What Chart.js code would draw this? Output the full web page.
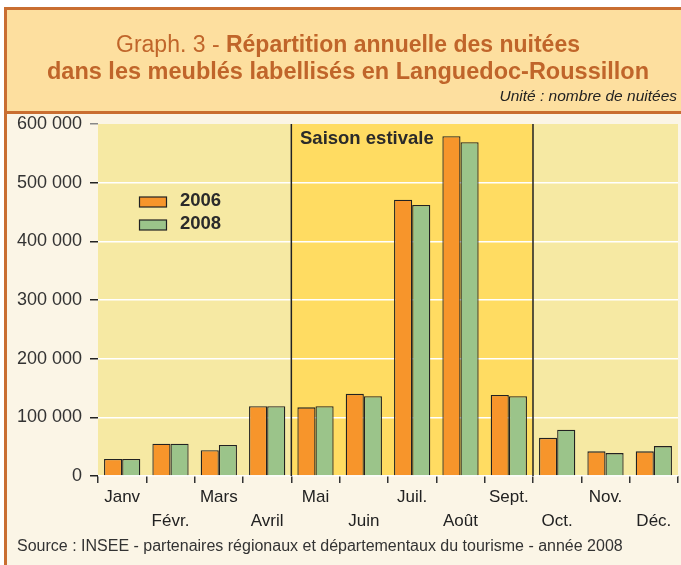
<!DOCTYPE html>
<html>
<head>
<meta charset="utf-8">
<script src="https://cdn.jsdelivr.net/npm/chart.js@4"></script>
<style>
  html, body { margin: 0; padding: 0; background: #fff; }
  #wrap { width: 681px; height: 565px; position: relative; }
</style>
</head>
<body>
<div id="wrap"><canvas id="nuitees"></canvas></div>
<script>
const mois = ["Janv", "Févr.", "Mars", "Avril", "Mai", "Juin", "Juil.", "Août", "Sept.", "Oct.", "Nov.", "Déc."];
const nuitees2006 = [29000, 55000, 44000, 119000, 117000, 140000, 471000, 579000, 138000, 65000, 42000, 42000];
const nuitees2008 = [29000, 55000, 53000, 119000, 119000, 136000, 462000, 569000, 136000, 79000, 39000, 51000];
const yTicks = [0, 100000, 200000, 300000, 400000, 500000, 600000];
const saison = [4, 8]; // Mai .. Sept.

const FONT = "'Liberation Sans', Arial, sans-serif";

// fonds, cadre du titre, bande "saison estivale"
const decor = {
  id: "decor",
  beforeDraw(chart) {
    const c = chart.ctx, a = chart.chartArea, x = chart.scales.x;
    c.save();
    c.fillStyle = "#fff";
    c.fillRect(0, 0, chart.width, chart.height);
    c.fillStyle = "#FBF5E6";
    c.fillRect(5, 112, chart.width, chart.height);
    // cadre titre
    c.fillStyle = "#FDDF9F";
    c.fillRect(5, 8, chart.width, 104);
    c.strokeStyle = "#C96E31";
    c.lineWidth = 3;
    c.strokeRect(5.5, 8.5, chart.width + 5, 104);
    c.beginPath();
    c.moveTo(5.5, 112); c.lineTo(5.5, chart.height);
    c.stroke();
    // zone du graphique
    c.fillStyle = "#F6E9A3";
    c.fillRect(a.left, a.top, a.right - a.left, a.bottom - a.top);
    const w = (x.getPixelForValue(1) - x.getPixelForValue(0));
    const x0 = x.getPixelForValue(saison[0]) - w / 2;
    const x1 = x.getPixelForValue(saison[1]) + w / 2;
    c.fillStyle = "#FFDC62";
    c.fillRect(x0, a.top, x1 - x0, a.bottom - a.top);
    c.restore();
  },
  beforeDatasetsDraw(chart) {
    const c = chart.ctx, a = chart.chartArea, x = chart.scales.x;
    const w = (x.getPixelForValue(1) - x.getPixelForValue(0));
    c.save();
    c.strokeStyle = "#222";
    c.lineWidth = 1.5;
    [x.getPixelForValue(saison[0]) - w / 2, x.getPixelForValue(saison[1]) + w / 2].forEach(px => {
      c.beginPath(); c.moveTo(px, a.top); c.lineTo(px, a.bottom); c.stroke();
    });
    c.restore();
  },
  afterDraw(chart) {
    const c = chart.ctx;
    c.save();
    // titre
    c.fillStyle = "#C0652A";
    c.textBaseline = "middle";
    const p1 = "Graph. 3 - ", p2 = "Répartition annuelle des nuitées";
    c.font = "23px " + FONT;
    const w1 = c.measureText(p1).width;
    c.font = "bold 23px " + FONT;
    const w2 = c.measureText(p2).width;
    let sx = 348 - (w1 + w2) / 2;
    c.textAlign = "left";
    c.font = "23px " + FONT;
    c.fillText(p1, sx, 46);
    c.font = "bold 23px " + FONT;
    c.fillText(p2, sx + w1, 46);
    c.textAlign = "center";
    c.font = "bold 23.5px " + FONT;
    c.fillText("dans les meublés labellisés en Languedoc-Roussillon", 348, 73);
    c.fillStyle = "#222";
    c.textAlign = "right";
    c.font = "italic 15.5px " + FONT;
    c.fillText("Unité : nombre de nuitées", 677, 97);
    // saison estivale
    c.textAlign = "left";
    c.font = "bold 18.5px " + FONT;
    c.fillStyle = "#2A2A2A";
    c.fillText("Saison estivale", 300, 139);
    // légende
    const items = [["2006", "#F7952B", 202], ["2008", "#9BC48A", 225]];
    items.forEach(([lab, col, y]) => {
      c.fillStyle = col;
      c.fillRect(139.5, y - 5, 27, 10);
      c.strokeStyle = "#222";
      c.lineWidth = 1.2;
      c.strokeRect(139.5, y - 5, 27, 10);
      c.fillStyle = "#2A2A2A";
      c.font = "bold 18.5px " + FONT;
      c.fillText(lab, 180, y - 1);
    });
    // source
    c.font = "16px " + FONT;
    c.fillStyle = "#333";
    c.fillText("Source : INSEE - partenaires régionaux et départementaux du tourisme - année 2008", 17, 547);
    c.restore();
  }
};

new Chart(document.getElementById("nuitees"), {
  type: "bar",
  data: {
    labels: mois,
    datasets: [
      {
        label: "2006",
        data: nuitees2006,
        backgroundColor: "#F7952B",
        borderColor: "#222",
        borderWidth: 1.3,
        categoryPercentage: 0.75,
        barPercentage: 1,
      },
      {
        label: "2008",
        data: nuitees2008,
        backgroundColor: "#9BC48A",
        borderColor: "#222",
        borderWidth: 1.3,
        categoryPercentage: 0.75,
        barPercentage: 1,
      },
    ],
  },
  options: {
    responsive: true,
    maintainAspectRatio: false,
    animation: false,
    layout: { padding: { top: 124, right: 3, left: 0, bottom: 0 } },
    plugins: { legend: { display: false }, tooltip: { enabled: false }, title: { display: false } },
    scales: {
      x: {
        grid: { offset: true, drawOnChartArea: false, tickLength: 7, color: "#333", lineWidth: 1.5 },
        border: { display: false },
        ticks: {
          autoSkip: false,
          maxRotation: 0,
          padding: 2,
          color: "#222",
          font: { family: FONT, size: 17, lineHeight: 1.42 },
          callback: (v, i) => (i % 2 === 0 ? [mois[i], ""] : ["", mois[i]]),
        },
        afterFit: (s) => { s.height = 565 - 476; },
      },
      y: {
        min: 0,
        max: 600000,
        afterBuildTicks: (s) => { s.ticks = yTicks.map(v => ({ value: v })); },
        grid: {
          color: (ctx) => (ctx.tick && ctx.tick.value === 600000 ? "rgba(0,0,0,0)" : "#FFFFFF"),
          tickColor: (ctx) => (ctx.tick && ctx.tick.value === 600000 ? "#888" : "#222"),
          lineWidth: 1.5,
          tickLength: 8,
        },
        border: { display: false },
        ticks: {
          padding: 8,
          color: "#333",
          font: { family: FONT, size: 18 },
          callback: (v) => v.toLocaleString("fr-FR").replace(/\s/g, " "),
        },
        afterFit: (s) => { s.width = 98; },
      },
    },
  },
  plugins: [decor],
});
</script>
</body>
</html>
